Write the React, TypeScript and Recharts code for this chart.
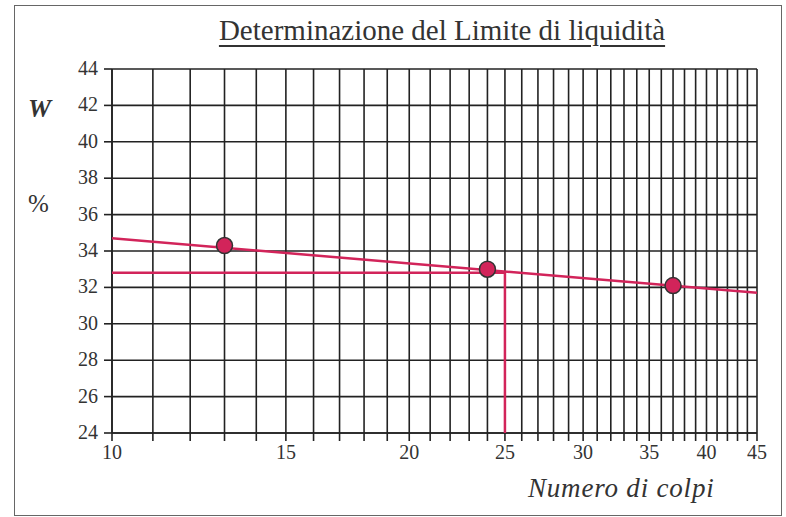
import React from 'react';
import { ComposedChart, Scatter, XAxis, YAxis, CartesianGrid } from 'recharts';

// prove (numero di colpi, umidità %)
const colpi = [13, 24, 37];
const umidita = [34.3, 33.0, 32.1];

// retta interpolata
const rettaX = [10, 45];
const rettaW = [34.7, 31.7];

// limite di liquidità a 25 colpi
const limiteX = [10, 25, 25];
const limiteW = [32.8, 32.8, 24];

const xTicks = Array.from({ length: 36 }, (_, i) => 10 + i);
const xLabels = [10, 15, 20, 25, 30, 35, 40, 45];
const yTicks = [24, 26, 28, 30, 32, 34, 36, 38, 40, 42, 44];

const RED = '#d2245a';
const INK = '#222';
const FONT = '"Liberation Serif", "Times New Roman", serif';
const tickStyle = { fontSize: '20px', fontFamily: FONT, fill: '#333' };

const punti = colpi.map((x, i) => ({ x, y: umidita[i] }));
const retta = rettaX.map((x, i) => ({ x, y: rettaW[i] }));
const limite = limiteX.map((x, i) => ({ x, y: limiteW[i] }));

const noDot = () => <g />;

function XTick(p: any) {
  const v = p.payload.value;
  if (!xLabels.includes(v)) return <g />;
  return (
    <text x={p.x} y={p.y + 16} textAnchor="middle" style={tickStyle}>
      {v}
    </text>
  );
}

function YTick(p: any) {
  return (
    <text x={p.x - 4} y={p.y + 6} textAnchor="end" style={tickStyle}>
      {p.payload.value}
    </text>
  );
}

export default function App() {
  return (
    <div style={{ position: 'absolute', left: 0, top: 0, width: 786, height: 517, background: '#fff', fontFamily: FONT }}>
      <div style={{ position: 'absolute', left: 14, top: 5, width: 766, height: 509, border: '1.5px solid #666' }} />
      <div
        style={{
          position: 'absolute', left: 0, width: 884, top: 14, textAlign: 'center',
          fontSize: 29, color: '#333', textDecoration: 'underline', textUnderlineOffset: 5,
          textDecorationThickness: 1.5,
        }}
      >
        Determinazione del Limite di liquidità
      </div>
      <div style={{ position: 'absolute', left: 28, top: 94, fontSize: 26, fontStyle: 'italic', fontWeight: 'bold', color: '#333' }}>W</div>
      <div style={{ position: 'absolute', left: 28, top: 190, fontSize: 25, color: '#333' }}>%</div>
      <div style={{ position: 'absolute', left: 528, top: 473, fontSize: 27, fontStyle: 'italic', letterSpacing: 0.8, color: '#333' }}>
        Numero di colpi
      </div>
      <ComposedChart
        width={786}
        height={517}
        margin={{ top: 69, right: 29, bottom: 54, left: 62 }}
        style={{ position: 'absolute', left: 0, top: 0, fontFamily: FONT }}
      >
        <CartesianGrid stroke={INK} strokeWidth={1.6} />
        <XAxis
          type="number"
          dataKey="x"
          scale="log"
          domain={[10, 45]}
          ticks={xTicks}
          interval={0}
          allowDataOverflow
          height={30}
          tickSize={8}
          tickLine={{ stroke: INK, strokeWidth: 1.6 }}
          axisLine={{ stroke: INK, strokeWidth: 1.6 }}
          tick={<XTick />}
        />
        <YAxis
          type="number"
          dataKey="y"
          domain={[24, 44]}
          ticks={yTicks}
          interval={0}
          allowDataOverflow
          width={50}
          tickSize={8}
          tickLine={{ stroke: INK, strokeWidth: 1.6 }}
          axisLine={{ stroke: INK, strokeWidth: 1.6 }}
          tick={<YTick />}
        />
        <Scatter data={limite} line={{ stroke: RED, strokeWidth: 2.5 }} shape={noDot} isAnimationActive={false} />
        <Scatter data={retta} line={{ stroke: RED, strokeWidth: 2.5 }} shape={noDot} isAnimationActive={false} />
        <Scatter
          data={punti}
          fill={RED}
          stroke="#333"
          strokeWidth={1.5}
          shape={(p: any) => <circle cx={p.cx} cy={p.cy} r={8} fill={RED} stroke="#333" strokeWidth={1.5} />}
          isAnimationActive={false}
        />
      </ComposedChart>
    </div>
  );
}
